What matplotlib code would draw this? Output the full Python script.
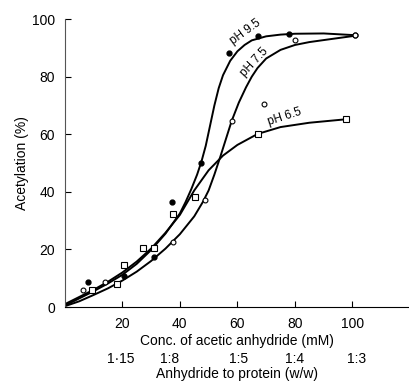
import numpy as np
import matplotlib
matplotlib.use('Agg')
from matplotlib import pyplot as plt

plt.rcParams['font.family'] = ['Liberation Sans', 'DejaVu Sans']
plt.rcParams['font.size'] = 10

# measured points (conc. mM, % acetylation)
ph95_x = [8.2, 20.5, 31.1, 37.4, 47.3, 57.2, 67.0, 78.0, 100.9]
ph95_y = [8.8, 10.8, 17.3, 36.4, 50.1, 88.3, 94.1, 94.7, 94.4]

ph75_x = [6.5, 14.0, 37.5, 48.7, 58.0, 69.3, 80.0, 100.9]
ph75_y = [6.1, 8.8, 22.7, 37.2, 64.6, 70.4, 92.7, 94.4]

ph65_x = [9.3, 18.0, 20.7, 27.3, 31.1, 37.5, 45.2, 67.2, 97.7]
ph65_y = [6.1, 7.9, 14.6, 20.4, 20.4, 32.3, 38.3, 60.1, 65.2]

# hand drawn curves
curve95_x = [0, 5, 10, 15, 20, 25, 30, 35, 40, 42, 44, 46, 47.5, 49, 50.5, 52, 53.5, 55, 57.5, 60,
             62.5, 65, 70, 75, 80, 90, 100.9]
curve95_y = [0.5, 3, 5.5, 8.2, 11.2, 15, 19.8, 25.5, 32.5, 36.5, 41, 46, 50.5, 56, 63, 70, 76, 80.5,
             85.5, 88.8, 91, 92.6, 94, 94.6, 94.9, 95, 94.4]

curve75_x = [0, 5, 10, 15, 20, 25, 30, 35, 40, 45, 48, 50, 52, 54, 56, 58, 60.5, 63, 65, 67, 70,
             75, 80, 85, 90, 100.9]
curve75_y = [0.3, 2, 4.2, 6.5, 9.2, 12.3, 16, 20.3, 25.3, 31.5, 36.5, 40.5, 46, 52, 58.3, 64.6,
             71, 76.3, 80, 83, 86.3, 89.3, 91, 92, 92.7, 94.2]

curve65_x = [0, 5, 10, 15, 20, 25, 30, 35, 40, 45, 50, 55, 60, 67, 75, 85, 97.7]
curve65_y = [1, 3.5, 6, 8.8, 12, 15.8, 20.3, 25.8, 32, 40.5, 47.5, 52.6, 56.3, 60.1, 62.5, 64, 65.2]

ticks_mm = [20, 40, 60, 80, 100]
ratio_pos = [19.5, 36.5, 60.5, 80, 101.5]
ratio_labels = ['1·15', '1:8', '1:5', '1:4', '1:3']

fig = plt.figure(figsize=(4.10, 3.81), dpi=100)
ax = fig.add_axes([0.158, 0.194, 0.842, 0.756])

for cx, cy in [(curve95_x, curve95_y), (curve75_x, curve75_y), (curve65_x, curve65_y)]:
    ax.plot(cx, cy, color='black', lw=1.4, solid_joinstyle='round')

ax.plot(ph95_x, ph95_y, 'o', color='black', ms=3.5)
ax.plot(ph75_x, ph75_y, 'o', mfc='white', mec='black', mew=0.8, ms=3.5)
ax.plot(ph65_x, ph65_y, 's', mfc='white', mec='black', mew=0.8, ms=4.5)

ax.text(62.7, 95.5, 'pH 9.5', rotation=36, ha='center', va='center', fontsize=8.5)
ax.text(66.0, 85.0, 'pH 7.5', rotation=47, ha='center', va='center', fontsize=8.5)
ax.text(76.4, 66.0, 'pH 6.5', rotation=18, ha='center', va='center', fontsize=8.5)

ax.set_xlim(0, 120)
ax.set_ylim(0, 100)
ax.set_xticks(ticks_mm)
ax.set_yticks([0, 20, 40, 60, 80, 100])
ax.tick_params(direction='in', length=4, width=0.8, pad=7, labelsize=10)
ax.spines['top'].set_visible(False)
ax.spines['right'].set_visible(False)
ax.spines['left'].set_color('#555555')
ax.set_ylabel('Acetylation (%)', labelpad=2)
ax.set_xlabel('Conc. of acetic anhydride (mM)', labelpad=2)

sec = ax.secondary_xaxis(-0.14)
sec.set_xticks(ratio_pos)
sec.set_xticklabels(ratio_labels)
sec.tick_params(length=0, pad=3)
sec.spines['bottom'].set_visible(False)
sec.set_xlabel('Anhydride to protein (w/w)', labelpad=1)

fig.savefig('out.png', dpi=100)
